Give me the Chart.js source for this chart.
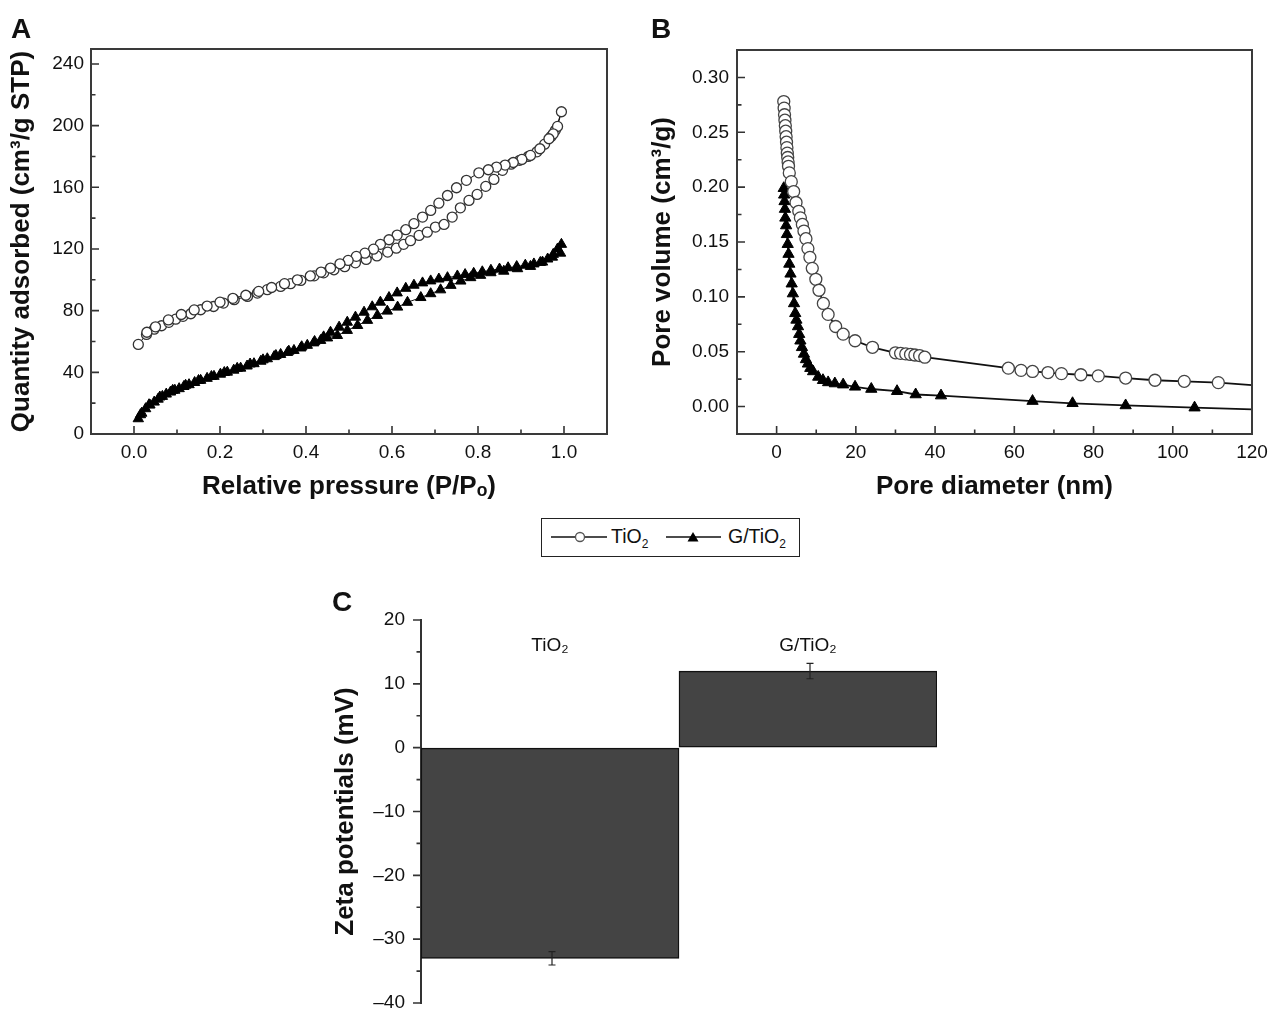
<!DOCTYPE html>
<html>
<head>
<meta charset="utf-8">
<title>N2 isotherms, pore size distribution and zeta potentials</title>
<script src="https://cdn.jsdelivr.net/npm/chart.js@4.4.1/dist/chart.umd.min.js"></script>
<style>
  html, body { margin: 0; padding: 0; background: #fff; }
  body { font-family: "Liberation Sans", Arial, Helvetica, sans-serif; color: #111; }
  #page { position: relative; width: 1272px; height: 1011px; overflow: hidden; }
  #page canvas { position: absolute; }
  .tag { position: absolute; font-size: 28px; font-weight: bold; line-height: 1; }
  #legend { position: absolute; left: 541px; top: 518px; width: 259px; height: 39px;
            border: 1.5px solid #222; box-sizing: border-box; font-size: 19.5px; }
  #legend svg, #legend span { position: absolute; }
  #legend span { top: 7px; line-height: 20px; white-space: nowrap; }
  #legend sub { font-size: 12px; vertical-align: -5px; line-height: 0; }
</style>
</head>
<body>
<div id="page">
  <canvas id="chartA" width="640" height="510" style="left:0;top:0"></canvas>
  <canvas id="chartB" width="632" height="510" style="left:640px;top:0"></canvas>
  <canvas id="chartC" width="640" height="421" style="left:330px;top:590px"></canvas>
  <div class="tag" style="left:11px;top:15px">A</div>
  <div class="tag" style="left:651px;top:15px">B</div>
  <div class="tag" style="left:332px;top:588px">C</div>
  <div id="legend">
    <svg style="left:9px;top:8px" width="56" height="20"><line x1="0" y1="10" x2="56" y2="10" stroke="#111" stroke-width="1.5"/><circle cx="29" cy="10" r="4.5" fill="#fff" stroke="#555" stroke-width="1.3"/></svg>
    <span style="left:69px">TiO<sub>2</sub></span>
    <svg style="left:124px;top:8px" width="55" height="20"><line x1="0" y1="10" x2="55" y2="10" stroke="#111" stroke-width="1.5"/><polygon points="21.5,14.5 32.5,14.5 27,5" fill="#000"/></svg>
    <span style="left:186px">G/TiO<sub>2</sub></span>
  </div>
</div>
<script>
// ---- A: N2 adsorption-desorption isotherms (adsorption branch, then desorption) ----
const aTiO2P = [0.010, 0.029, 0.047, 0.064, 0.081, 0.097, 0.114, 0.132, 0.155, 0.185, 0.208, 0.233, 0.264, 0.287, 0.310,
  0.341, 0.364, 0.388, 0.419, 0.441, 0.465, 0.490, 0.515, 0.540, 0.565, 0.590, 0.610, 0.627, 0.643, 0.663, 0.682, 0.701,
  0.721, 0.740, 0.759, 0.779, 0.798, 0.818, 0.837, 0.857, 0.877, 0.897, 0.917, 0.937, 0.955, 0.970, 0.980, 0.994,
  0.985, 0.975, 0.965, 0.944, 0.922, 0.902, 0.882, 0.863, 0.843, 0.824, 0.802, 0.773, 0.750, 0.729, 0.709, 0.690, 0.671,
  0.651, 0.632, 0.612, 0.593, 0.573, 0.557, 0.537, 0.517, 0.498, 0.479, 0.457, 0.435, 0.410, 0.380, 0.350, 0.320, 0.290,
  0.260, 0.230, 0.200, 0.170, 0.140, 0.110, 0.080, 0.050, 0.030];
const aTiO2Q = [58.1, 64.6, 68.0, 70.2, 72.4, 74.5, 76.3, 78.0, 80.6, 82.7, 84.9, 87.1, 89.2, 91.4, 93.6,
  95.7, 97.5, 99.6, 102.6, 104.5, 106.5, 108.5, 111.0, 113.2, 115.5, 118.0, 120.5, 123.0, 125.4, 128.8, 130.9, 134.2,
  135.9, 140.7, 146.7, 151.5, 155.4, 160.6, 165.1, 171.0, 175.0, 177.5, 180.0, 183.0, 188.0, 193.0, 197.0, 209.0,
  199.5, 194.7, 191.5, 185.0, 180.7, 178.1, 176.1, 174.4, 173.1, 171.4, 169.4, 164.5, 159.7, 154.7, 149.7, 145.0, 140.7,
  136.4, 132.5, 129.0, 126.0, 123.0, 119.9, 117.3, 115.2, 112.6, 110.4, 107.6, 105.0, 102.5, 100.0, 97.5, 95.0, 92.5,
  90.0, 88.0, 85.5, 83.0, 80.5, 77.5, 74.0, 69.5, 66.0];

const aGP = [0.010, 0.018, 0.027, 0.037, 0.047, 0.056, 0.066, 0.075, 0.085, 0.095, 0.105, 0.116, 0.128, 0.141, 0.155,
  0.170, 0.186, 0.201, 0.217, 0.232, 0.248, 0.263, 0.279, 0.295, 0.310, 0.326, 0.341, 0.357, 0.372, 0.388, 0.403, 0.418,
  0.434, 0.450, 0.473, 0.496, 0.520, 0.543, 0.566, 0.589, 0.613, 0.636, 0.667, 0.690, 0.713, 0.737, 0.760, 0.783, 0.806,
  0.830, 0.860, 0.892, 0.922, 0.950, 0.973, 0.992, 0.994,
  0.985, 0.975, 0.962, 0.945, 0.930, 0.910, 0.890, 0.870, 0.850, 0.830, 0.810, 0.790, 0.770, 0.752, 0.729, 0.709, 0.690,
  0.671, 0.651, 0.632, 0.612, 0.593, 0.573, 0.554, 0.535, 0.515, 0.496, 0.477, 0.457, 0.441, 0.420, 0.390, 0.360, 0.330,
  0.300, 0.270, 0.240, 0.210, 0.180, 0.150, 0.120, 0.090, 0.060, 0.035, 0.015];
const aGQ = [9.9, 13.5, 16.4, 18.8, 20.7, 22.6, 24.4, 25.9, 27.2, 28.4, 29.4, 30.8, 32.0, 33.4, 34.8,
  36.1, 37.4, 38.8, 40.1, 41.4, 42.7, 44.1, 45.6, 47.2, 48.8, 50.2, 51.6, 52.9, 54.2, 55.8, 57.5, 59.1,
  60.7, 62.3, 63.9, 67.2, 70.4, 73.7, 76.9, 79.7, 82.3, 85.4, 88.5, 91.0, 93.5, 96.4, 99.2, 101.4, 102.9,
  104.6, 105.6, 107.2, 108.7, 111.5, 114.7, 117.3, 123.0,
  120.0, 116.5, 113.5, 111.3, 110.3, 109.5, 108.6, 107.8, 107.0, 106.2, 105.2, 104.2, 103.4, 102.5, 101.4, 100.5, 99.3,
  98.0, 96.5, 94.5, 91.5, 88.5, 85.5, 82.5, 79.0, 75.8, 72.5, 69.3, 66.0, 63.0, 60.0, 56.6, 53.7, 50.9,
  48.1, 45.4, 42.6, 39.9, 37.3, 34.7, 31.6, 28.3, 24.0, 19.0, 12.5];

const aXTicks = [0, 0.2, 0.4, 0.6, 0.8, 1.0];
const aXMinor = [0.1, 0.3, 0.5, 0.7, 0.9];
const aYTicks = [0, 40, 80, 120, 160, 200, 240];
const aYMinor = [20, 60, 100, 140, 180, 220];

// ---- B: pore size distribution ----
const bTiO2D = [1.8, 1.9, 2.0, 2.1, 2.2, 2.3, 2.4, 2.5, 2.6, 2.7, 2.8, 2.9, 3.0, 3.2, 3.7, 4.3, 4.9, 5.6, 6.0, 6.5, 6.9,
  7.4, 7.9, 8.4, 9.0, 9.9, 10.7, 11.8, 13.0, 14.9, 16.8, 19.8, 24.2, 30.0, 31.3, 32.6, 33.8, 34.9, 36.1, 37.4,
  58.5, 61.7, 64.6, 68.5, 71.9, 76.8, 81.2, 88.1, 95.5, 102.9, 111.5, 120];
const bTiO2V = [0.278, 0.272, 0.266, 0.261, 0.256, 0.251, 0.246, 0.241, 0.236, 0.231, 0.227, 0.223, 0.219, 0.213, 0.205,
  0.196, 0.186, 0.178, 0.172, 0.166, 0.160, 0.153, 0.144, 0.136, 0.126, 0.116, 0.106, 0.094, 0.084, 0.073, 0.066, 0.060,
  0.054, 0.049, 0.0485, 0.048, 0.0475, 0.047, 0.0465, 0.045, 0.035, 0.033, 0.032, 0.031, 0.030, 0.029, 0.028, 0.026,
  0.024, 0.023, 0.0218, 0.0195];
const bGD = [1.8, 1.9, 2.0, 2.1, 2.2, 2.4, 2.6, 2.8, 3.0, 3.2, 3.5, 3.8, 4.1, 4.4, 4.7, 5.0, 5.4, 5.7, 6.0, 6.4, 6.9,
  7.4, 7.9, 8.5, 9.2, 10.5, 11.7, 13.0, 14.7, 16.8, 19.8, 23.9, 30.4, 35.1, 41.5, 64.6, 74.7, 88.1, 105.5, 120];
const bGV = [0.199, 0.193, 0.187, 0.180, 0.172, 0.165, 0.157, 0.148, 0.139, 0.130, 0.121, 0.112, 0.103, 0.094, 0.085,
  0.079, 0.073, 0.066, 0.060, 0.054, 0.048, 0.043, 0.039, 0.035, 0.032, 0.027, 0.024, 0.022, 0.021, 0.020, 0.018,
  0.016, 0.014, 0.011, 0.010, 0.005, 0.003, 0.001, -0.001, -0.0025];

const bXTicks = [0, 20, 40, 60, 80, 100, 120];
const bXMinor = [10, 30, 50, 70, 90, 110];
const bYTicks = [0, 0.05, 0.10, 0.15, 0.20, 0.25, 0.30];
const bYMinor = [0.025, 0.075, 0.125, 0.175, 0.225, 0.275];

// ---- C: zeta potentials ----
const cLabels = ['TiO\u2082', 'G/TiO\u2082'];
const cValues = [-33, 12];
const cErrors = [1.05, 1.2];
const cYTicks = [-40, -30, -20, -10, 0, 10, 20];
const cYMinor = [-35, -25, -15, -5, 5, 15];

const FAMILY = '"Liberation Sans", Arial, Helvetica, sans-serif';
const tickFont = { family: FAMILY, size: 19 };
const titleFont = { family: FAMILY, size: 26, weight: 'bold', lineHeight: 1 };
const INK = '#111';

const pts = (xs, ys) => xs.map((x, i) => ({ x, y: ys[i] }));
const useTicks = list => s => { s.ticks = list.map(v => ({ value: v })); };

// tick marks (inside for A/B, outside for C) and the closed frame
const tickMarks = {
  id: 'tickMarks',
  afterDraw(chart, args, o) {
    const { ctx, chartArea: a, scales: { x, y } } = chart;
    const dir = o.outward ? -1 : 1;
    ctx.save();
    ctx.strokeStyle = '#333';
    ctx.lineWidth = 1.6;
    ctx.beginPath();
    const xt = (list, len) => (list || []).forEach(v => {
      const p = x.getPixelForValue(v);
      ctx.moveTo(p, a.bottom); ctx.lineTo(p, a.bottom - dir * len);
    });
    const yt = (list, len) => (list || []).forEach(v => {
      const p = y.getPixelForValue(v);
      ctx.moveTo(a.left, p); ctx.lineTo(a.left + dir * len, p);
    });
    xt(o.xMajor, 8); xt(o.xMinor, 4.5);
    yt(o.yMajor, 8); yt(o.yMinor, 4.5);
    ctx.stroke();
    if (o.frame) {
      ctx.lineWidth = 2;
      ctx.strokeStyle = '#3a3a3a';
      ctx.strokeRect(a.left, a.top, a.width, a.height);
    }
    ctx.restore();
  }
};

const errorBars = {
  id: 'errorBars',
  afterDatasetsDraw(chart) {
    const { ctx, scales: { x, y } } = chart;
    ctx.save();
    ctx.strokeStyle = '#222';
    ctx.lineWidth = 1.2;
    ctx.beginPath();
    cValues.forEach((v, i) => {
      const px = x.getPixelForValue(i) + 2;
      const hi = y.getPixelForValue(v + cErrors[i]);
      const lo = y.getPixelForValue(v - cErrors[i]);
      ctx.moveTo(px, hi); ctx.lineTo(px, lo);
      ctx.moveTo(px - 3.5, hi); ctx.lineTo(px + 3.5, hi);
      ctx.moveTo(px - 3.5, lo); ctx.lineTo(px + 3.5, lo);
    });
    ctx.stroke();
    // sample names above the bars
    ctx.fillStyle = INK;
    ctx.font = '19px ' + FAMILY;
    ctx.textAlign = 'center';
    ctx.textBaseline = 'middle';
    cLabels.forEach((t, i) => ctx.fillText(t, x.getPixelForValue(i), y.getPixelForValue(16)));
    ctx.restore();
  }
};

const baseOpts = () => ({
  responsive: false,
  animation: false,
  devicePixelRatio: 1,
  events: [],
  plugins: { legend: { display: false }, tooltip: { enabled: false } }
});

function axisX(min, max, ticks, fmt, title) {
  return {
    type: 'linear', min, max,
    afterBuildTicks: useTicks(ticks),
    afterFit: s => { s.height = 66; s.paddingLeft = 0; s.paddingRight = 0; },
    grid: { display: false, drawTicks: false },
    border: { display: false },
    ticks: { padding: 7, color: INK, font: tickFont, maxRotation: 0, autoSkip: false, callback: fmt },
    title: { display: true, text: title, color: INK, font: titleFont, padding: { top: 0, bottom: 0 } }
  };
}

function axisY(min, max, ticks, fmt, title, width, tpad, lpad) {
  return {
    type: 'linear', min, max,
    afterBuildTicks: useTicks(ticks),
    afterFit: s => { s.width = width; s.paddingTop = 0; s.paddingBottom = 0; },
    grid: { display: false, drawTicks: false },
    border: { display: false },
    ticks: { padding: lpad, color: INK, font: tickFont, autoSkip: false, callback: fmt },
    title: { display: true, text: title, color: INK, font: titleFont, padding: { top: tpad, bottom: 0 } }
  };
}

// ---- Panel A ----
const optsA = baseOpts();
optsA.layout = { padding: { left: 0, top: 49, right: 33, bottom: 10 } };
optsA.plugins.tickMarks = { frame: true, xMajor: aXTicks, xMinor: aXMinor, yMajor: aYTicks, yMinor: aYMinor };
optsA.scales = {
  x: axisX(-0.1, 1.1, aXTicks, v => v.toFixed(1), 'Relative pressure (P/P\u2092)'),
  y: axisY(0, 249.7, aYTicks, v => String(v), 'Quantity adsorbed (cm\u00b3/g STP)', 91, 9, 7)
};
new Chart(document.getElementById('chartA'), {
  type: 'scatter',
  data: {
    datasets: [
      { label: 'TiO\u2082', data: pts(aTiO2P, aTiO2Q), showLine: true, borderColor: INK, borderWidth: 1,
        pointStyle: 'circle', pointRadius: 5, pointBackgroundColor: '#fff', pointBorderColor: '#333', pointBorderWidth: 1.3 },
      { label: 'G/TiO\u2082', data: pts(aGP, aGQ), showLine: true, borderColor: INK, borderWidth: 1,
        pointStyle: 'triangle', pointRadius: 6, pointBackgroundColor: '#000', pointBorderColor: '#000', pointBorderWidth: 1 }
    ]
  },
  options: optsA,
  plugins: [tickMarks]
});

// ---- Panel B ----
const optsB = baseOpts();
optsB.layout = { padding: { left: 0, top: 50, right: 20, bottom: 10 } };
optsB.plugins.tickMarks = { frame: true, xMajor: bXTicks, xMinor: bXMinor, yMajor: bYTicks, yMinor: bYMinor };
optsB.scales = {
  x: axisX(-10, 120, bXTicks, v => String(v), 'Pore diameter (nm)'),
  y: axisY(-0.025, 0.325, bYTicks, v => v.toFixed(2), 'Pore volume (cm\u00b3/g)', 97, 10, 8)
};
new Chart(document.getElementById('chartB'), {
  type: 'scatter',
  data: {
    datasets: [
      { label: 'TiO\u2082', data: pts(bTiO2D, bTiO2V), showLine: true, borderColor: INK, borderWidth: 1.8,
        pointStyle: 'circle', pointRadius: bTiO2D.map(d => d >= 120 ? 0 : 6),
        pointBackgroundColor: '#fff', pointBorderColor: '#444', pointBorderWidth: 1.3 },
      { label: 'G/TiO\u2082', data: pts(bGD, bGV), showLine: true, borderColor: INK, borderWidth: 1.8,
        pointStyle: 'triangle', pointRadius: bGD.map(d => d >= 120 ? 0 : 6.5),
        pointBackgroundColor: '#000', pointBorderColor: '#000', pointBorderWidth: 1 }
    ]
  },
  options: optsB,
  plugins: [tickMarks]
});

// ---- Panel C ----
const optsC = baseOpts();
optsC.layout = { padding: { left: 0, top: 30, right: 33, bottom: 8 } };
optsC.plugins.tickMarks = { outward: true, yMajor: cYTicks, yMinor: cYMinor };
const yC = axisY(-40, 20, cYTicks, v => v < 0 ? '\u2013' + Math.abs(v) : String(v), 'Zeta potentials (mV)', 91, 3, 16);
yC.grid = { display: true, drawOnChartArea: false, drawTicks: false };
yC.border = { display: true, color: '#333', width: 2 };
optsC.scales = {
  x: { type: 'category', display: false },
  y: yC
};
new Chart(document.getElementById('chartC'), {
  type: 'bar',
  data: {
    labels: cLabels,
    datasets: [{
      label: 'Zeta potential',
      data: cValues,
      backgroundColor: '#444444',
      borderColor: INK,
      borderWidth: 1.5,
      borderSkipped: false,
      barPercentage: 1,
      categoryPercentage: 1
    }]
  },
  options: optsC,
  plugins: [tickMarks, errorBars]
});
</script>
</body>
</html>
